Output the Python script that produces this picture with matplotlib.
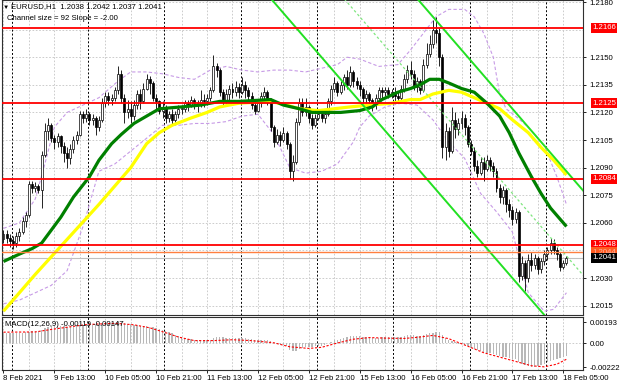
import numpy as np
import matplotlib
matplotlib.use("Agg")
import matplotlib.pyplot as plt
from matplotlib import transforms

plt.rcParams['font.family'] = ['Liberation Sans', 'DejaVu Sans']
FS = 5.6

# ---- hourly EURUSD candles (8 Feb 21:00 .. 18 Feb 06:00) ----
first_open = 1.2051
closes = [
    1.2054, 1.2052, 1.2050, 1.2049, 1.2053, 1.2055, 1.2061, 1.2064, 1.2081, 1.2079,
    1.2080, 1.2078, 1.2097, 1.2110, 1.2113, 1.2106, 1.2104, 1.2107, 1.2102, 1.2098,
    1.2095, 1.2100, 1.2105, 1.2108, 1.2119, 1.2117, 1.2119, 1.2116, 1.2117, 1.2112,
    1.2116, 1.2125, 1.2129, 1.2127, 1.2128, 1.2132, 1.2141, 1.2128, 1.2120, 1.2122,
    1.2118, 1.2124, 1.2130, 1.2126, 1.2133, 1.2138, 1.2136, 1.2128, 1.2126, 1.2121,
    1.2123, 1.2117, 1.2119, 1.2116, 1.2119, 1.2122, 1.2122, 1.2125, 1.2124, 1.2127,
    1.2125, 1.2124, 1.2127, 1.2126, 1.2128, 1.2132, 1.2145, 1.2143, 1.2131, 1.2126,
    1.2130, 1.2133, 1.2131, 1.2134, 1.2131, 1.2135, 1.2132, 1.2129, 1.2124, 1.2121,
    1.2125, 1.2129, 1.2131, 1.2126, 1.2112, 1.2104, 1.2108, 1.2105, 1.2109, 1.2103,
    1.2088, 1.2093, 1.2115, 1.2125, 1.2120, 1.2123, 1.2117, 1.2113, 1.2117, 1.2119,
    1.2117, 1.2119, 1.2126, 1.2133, 1.2136, 1.2131, 1.2135, 1.2139, 1.2135, 1.2142,
    1.2137, 1.2135, 1.2133, 1.2128, 1.2130, 1.2127, 1.2124, 1.2128, 1.2132, 1.2131,
    1.2132, 1.2130, 1.2131, 1.2129, 1.2128, 1.2133, 1.2138, 1.2143, 1.2141, 1.2134,
    1.2137, 1.2132, 1.2146, 1.2152, 1.2157, 1.2165, 1.2163, 1.2150, 1.2101, 1.2110,
    1.2099, 1.2116, 1.2111, 1.2114, 1.2117, 1.2112, 1.2103, 1.2099, 1.2091, 1.2087,
    1.2093, 1.2089, 1.2094, 1.2091, 1.2088, 1.2079, 1.2074, 1.2078, 1.2070, 1.2067,
    1.2062, 1.2066, 1.2031, 1.2038, 1.2030, 1.2040, 1.2037, 1.2041, 1.2035, 1.2039,
    1.2043, 1.2045, 1.2049, 1.2045, 1.2043, 1.2036, 1.2038, 1.2041,
]
highs = [
    1.2056, 1.2056, 1.2054, 1.2053, 1.2055, 1.2057, 1.2063, 1.2066, 1.2083, 1.2083,
    1.2082, 1.2081, 1.2099, 1.2114, 1.2117, 1.2114, 1.2108, 1.2109, 1.2108, 1.2104,
    1.2101, 1.2103, 1.2107, 1.2110, 1.2121, 1.2121, 1.2122, 1.2120, 1.2119, 1.2118,
    1.2118, 1.2128, 1.2131, 1.2131, 1.2130, 1.2134, 1.2145, 1.2143, 1.2130, 1.2127,
    1.2126, 1.2127, 1.2132, 1.2133, 1.2136, 1.2141, 1.2140, 1.2137, 1.2130, 1.2127,
    1.2126, 1.2124, 1.2121, 1.2122, 1.2121, 1.2124, 1.2124, 1.2127, 1.2127, 1.2129,
    1.2128, 1.2127, 1.2132, 1.2130, 1.2130, 1.2134, 1.2151, 1.2147, 1.2144, 1.2133,
    1.2133, 1.2135, 1.2136, 1.2137, 1.2136, 1.2139, 1.2137, 1.2134, 1.2131, 1.2126,
    1.2127, 1.2131, 1.2134, 1.2132, 1.2128, 1.2113, 1.2111, 1.2110, 1.2112, 1.2110,
    1.2104, 1.2097, 1.2117, 1.2128, 1.2128, 1.2128, 1.2124, 1.2119, 1.2119, 1.2121,
    1.2121, 1.2122, 1.2128, 1.2135, 1.2139, 1.2137, 1.2137, 1.2141, 1.2143, 1.2145,
    1.2143, 1.2139, 1.2137, 1.2134, 1.2132, 1.2131, 1.2128, 1.2130, 1.2134, 1.2134,
    1.2134, 1.2134, 1.2133, 1.2134, 1.2131, 1.2135, 1.2141, 1.2146, 1.2148, 1.2143,
    1.2139, 1.2138, 1.2149, 1.2158, 1.2162, 1.2170, 1.2172, 1.2166, 1.2152, 1.2114,
    1.2112, 1.2123, 1.2120, 1.2117, 1.2121, 1.2119, 1.2113, 1.2105, 1.2101, 1.2094,
    1.2096, 1.2096, 1.2097, 1.2096, 1.2093, 1.2090, 1.2081, 1.2080, 1.2079, 1.2073,
    1.2069, 1.2068, 1.2067, 1.2042, 1.2040, 1.2043, 1.2044, 1.2043, 1.2042, 1.2041,
    1.2045, 1.2047, 1.2052, 1.2051, 1.2047, 1.2044, 1.2040, 1.2042,
]
lows = [
    1.2049, 1.2049, 1.2047, 1.2046, 1.2047, 1.2050, 1.2054, 1.2058, 1.2063, 1.2076,
    1.2077, 1.2076, 1.2068, 1.2096, 1.2105, 1.2104, 1.2100, 1.2101, 1.2098, 1.2093,
    1.2090, 1.2092, 1.2098, 1.2103, 1.2107, 1.2114, 1.2115, 1.2113, 1.2113, 1.2108,
    1.2110, 1.2115, 1.2123, 1.2124, 1.2124, 1.2126, 1.2130, 1.2125, 1.2114, 1.2117,
    1.2114, 1.2116, 1.2122, 1.2122, 1.2125, 1.2132, 1.2130, 1.2126, 1.2122, 1.2119,
    1.2117, 1.2114, 1.2115, 1.2113, 1.2115, 1.2117, 1.2119, 1.2120, 1.2121, 1.2123,
    1.2122, 1.2120, 1.2123, 1.2123, 1.2124, 1.2126, 1.2131, 1.2139, 1.2129, 1.2124,
    1.2125, 1.2127, 1.2128, 1.2129, 1.2128, 1.2130, 1.2128, 1.2126, 1.2122, 1.2119,
    1.2120, 1.2123, 1.2127, 1.2124, 1.2110, 1.2101, 1.2103, 1.2102, 1.2104, 1.2100,
    1.2084, 1.2083, 1.2092, 1.2113, 1.2118, 1.2118, 1.2114, 1.2111, 1.2112, 1.2116,
    1.2115, 1.2114, 1.2118, 1.2124, 1.2131, 1.2129, 1.2130, 1.2132, 1.2133, 1.2134,
    1.2134, 1.2133, 1.2129, 1.2125, 1.2125, 1.2122, 1.2121, 1.2122, 1.2127, 1.2128,
    1.2129, 1.2128, 1.2128, 1.2126, 1.2125, 1.2127, 1.2131, 1.2136, 1.2138, 1.2132,
    1.2131, 1.2130, 1.2131, 1.2144, 1.2150, 1.2155, 1.2158, 1.2145, 1.2095, 1.2094,
    1.2096, 1.2098, 1.2106, 1.2108, 1.2111, 1.2108, 1.2101, 1.2097, 1.2088, 1.2085,
    1.2086, 1.2083, 1.2088, 1.2088, 1.2085, 1.2077, 1.2071, 1.2070, 1.2066, 1.2063,
    1.2059, 1.2060, 1.2028, 1.2029, 1.2023, 1.2028, 1.2034, 1.2035, 1.2032, 1.2033,
    1.2037, 1.2040, 1.2043, 1.2043, 1.2040, 1.2034, 1.2035, 1.2037,
]

# MACD(12,26,9) main histogram, in 1e-5
macd_main = [
    95, 95, 94, 92, 92, 93, 95, 98, 105, 110,
    113, 114, 122, 135, 148, 155, 158, 160, 158, 154,
    150, 150, 152, 154, 160, 163, 166, 167, 168, 166,
    167, 172, 177, 180, 182, 185, 193, 190, 183, 178,
    172, 168, 166, 160, 158, 156, 152, 145, 137, 128,
    120, 110, 100, 88, 78, 68, 58, 48, 40, 34,
    28, 24, 24, 24, 26, 30, 45, 55, 56, 52,
    50, 48, 47, 47, 46, 46, 44, 40, 35, 30,
    28, 28, 30, 30, 18, 2, -8, -16, -20, -28,
    -60, -78, -70, -55, -45, -38, -35, -35, -32, -28,
    -25, -15, -2, 12, 25, 32, 40, 48, 55, 62,
    64, 63, 60, 55, 52, 46, 42, 45, 50, 52,
    55, 56, 55, 53, 52, 55, 62, 70, 74, 70,
    66, 64, 72, 80, 88, 96, 102, 98, 70, 48,
    30, 20, 5, -5, -12, -20, -32, -42, -55, -68,
    -75, -85, -90, -95, -100, -110, -120, -125, -130, -138,
    -145, -150, -175, -190, -205, -212, -222, -220, -212, -200,
    -190, -178, -165, -155, -147, -138, -128, -119,
]
signal_bars = [0, 10, 15, 26, 35, 41, 46, 51, 55, 60, 66, 72, 78, 85, 90, 96, 100,
               105, 110, 115, 120, 126, 130, 135, 140, 146, 151, 156, 161, 166,
               170, 174, 177]
signal_vals = [100, 102, 125, 170, 182, 168, 140, 95, 55, 22, 22, 30, 22, 2, -35, -50,
               -40, 0, 35, 50, 45, 42, 52, 70, 40, -30, -90, -130, -170, -210,
               -220, -195, -150]

# moving averages (bar index, price)
green_bars = [0, 5, 9, 12, 15, 18, 22, 27, 30, 34, 37, 41, 45, 49, 56, 62, 68, 74,
              84, 88, 93, 97, 102, 106, 112, 116, 119, 124, 128, 131, 134, 137,
              140, 144, 148, 152, 156, 159, 162, 166, 169, 172, 175, 177]
green_vals = [1.2039, 1.2043, 1.2046, 1.2049, 1.2056, 1.2063, 1.2074, 1.2085, 1.2094,
              1.2103, 1.2108, 1.2114, 1.2118, 1.2122, 1.2123, 1.2124, 1.2126, 1.2126,
              1.2127, 1.2124, 1.2122, 1.2120, 1.2120, 1.2120, 1.2121, 1.2123, 1.2127,
              1.2131, 1.2133, 1.2135, 1.2138, 1.2138, 1.2136, 1.2133, 1.2131, 1.2125,
              1.2118, 1.2109, 1.2098, 1.2085, 1.2076, 1.2068, 1.2062, 1.2058]
yellow_bars = [0, 10, 20, 30, 40, 45, 49, 53, 59, 64, 68, 74, 84, 89, 93, 99, 104,
               109, 115, 122, 128, 131, 135, 140, 144, 148, 152, 156, 160, 165,
               169, 173, 177]
yellow_vals = [1.2012, 1.2032, 1.2051, 1.2070, 1.2090, 1.2103, 1.2109, 1.2113, 1.2117,
               1.2120, 1.2123, 1.2125, 1.2126, 1.2124, 1.2122, 1.2121, 1.2122, 1.2123,
               1.2124, 1.2125, 1.2127, 1.2127, 1.2130, 1.2132, 1.2131, 1.2128, 1.2125,
               1.2122, 1.2116, 1.2109, 1.2101, 1.2094, 1.2086]

# bollinger bands (bar index, price)
bb_up_bars = [0, 5, 10, 13, 16, 20, 25, 30, 36, 40, 45, 50, 55, 60, 65, 70, 75, 80,
              85, 90, 95, 100, 105, 108, 112, 118, 124, 128, 132, 136, 140, 145,
              148, 151, 154, 156, 158, 161, 165, 170, 174, 177]
bb_up_vals = [1.2057, 1.2060, 1.2073, 1.2092, 1.2112, 1.2120, 1.2124, 1.2128, 1.2137,
              1.2142, 1.2142, 1.2141, 1.2139, 1.2138, 1.2143, 1.2145, 1.2143, 1.2142,
              1.2143, 1.2143, 1.2142, 1.2144, 1.2146, 1.2150, 1.2149, 1.2145, 1.2146,
              1.2154, 1.2163, 1.2172, 1.2176, 1.2176, 1.2172, 1.2163, 1.2150, 1.2130,
              1.2122, 1.2118, 1.2112, 1.2102, 1.2085, 1.2070]
bb_lo_bars = [0, 5, 10, 15, 20, 25, 30, 35, 40, 45, 50, 55, 60, 65, 70, 75, 80, 85,
              90, 95, 100, 105, 110, 112, 115, 120, 125, 130, 135, 140, 145, 150,
              155, 160, 165, 170, 173, 177]
bb_lo_vals = [1.2016, 1.2018, 1.2022, 1.2026, 1.2034, 1.2058, 1.2088, 1.2092, 1.2099,
              1.2106, 1.2113, 1.2113, 1.2114, 1.2114, 1.2115, 1.2118, 1.2119, 1.2108,
              1.2090, 1.2087, 1.2088, 1.2092, 1.2104, 1.2112, 1.2118, 1.2123, 1.2125,
              1.2124, 1.2116, 1.2104, 1.2095, 1.2076, 1.2066, 1.2055, 1.2022, 1.2012,
              1.2013, 1.2022]

# levels and channel
red_levels = [1.2166, 1.2125, 1.2084, 1.2048]
orange_level = 1.2044
bid_level = 1.2041
channel_size = 0.0092
channel_slope = -0.0002      # per bar
channel_anchor = (164, 1.2022)

price_ticks = [1.2015, 1.2030, 1.2060, 1.2075, 1.2090, 1.2105, 1.2120, 1.2135, 1.2150, 1.2180]
grid_levels = np.arange(1.2015, 1.21801, 0.0015)
time_labels = ["8 Feb 2021", "9 Feb 13:00", "10 Feb 05:00", "10 Feb 21:00",
               "11 Feb 13:00", "12 Feb 05:00", "12 Feb 21:00", "15 Feb 13:00",
               "16 Feb 05:00", "16 Feb 21:00", "17 Feb 13:00", "18 Feb 05:00"]
day_starts = [3, 27, 51, 75, 99, 123, 147, 171]

assert len(closes) == len(highs) == len(lows) == len(macd_main)

# ---- figure ----
W, H = 620, 388
fig = plt.figure(figsize=(W / 100, H / 100), dpi=100)
fig.patch.set_facecolor('white')
ax = fig.add_axes([2 / W, 1 - 315 / H, 581 / W, 315 / H])
axm = fig.add_axes([2 / W, 1 - 370 / H, 581 / W, 53 / H])

n = len(closes)
x = np.arange(n)
c = np.array(closes)
o = np.r_[first_open, c[:-1]]
hi = np.maximum(np.array(highs), np.maximum(o, c))
lo = np.minimum(np.array(lows), np.minimum(o, c))

xlim = (-0.47, 182.2)
ytop = 1.21811
ax.set_xlim(*xlim)
ax.set_ylim(ytop - 315 / 18400, ytop)

grid_kw = dict(color='#c4c4c4', lw=0.6, ls=(0, (2, 2)), zorder=0)
for g in grid_levels:
    ax.axhline(g, **grid_kw)
for b in range(0, n + 5, 8):
    ax.axvline(b, **grid_kw)
    axm.axvline(b, **grid_kw)
for d in day_starts:
    ax.axvline(d - 0.4, color='black', lw=0.7, ls=(0, (2, 2)), zorder=1)
    axm.axvline(d - 0.4, color='black', lw=0.7, ls=(0, (2, 2)), zorder=1)

# bollinger bands
ax.plot(bb_up_bars, bb_up_vals, color='#c79be6', lw=0.8, ls=(0, (3, 2)), zorder=2)
ax.plot(bb_lo_bars, bb_lo_vals, color='#c79be6', lw=0.8, ls=(0, (3, 2)), zorder=2)

# candles
bull = c >= o
ax.vlines(x, lo, hi, color='black', lw=0.6, zorder=3)
body = np.maximum(np.abs(c - o), 0.00002)
ax.bar(x, body, bottom=np.minimum(o, c), width=0.62,
       color=np.where(bull, 'white', 'black'), edgecolor='black', lw=0.5, zorder=4)

# moving averages
ax.plot(yellow_bars, yellow_vals, color='#ffff00', lw=2.3, zorder=5, solid_capstyle='butt')
ax.plot(green_bars, green_vals, color='#008000', lw=2.3, zorder=6, solid_capstyle='butt')

# regression channel
xs = np.array([xlim[0] - 5, xlim[1] + 5])
lower = channel_anchor[1] + channel_slope * (xs - channel_anchor[0])
ax.plot(xs, lower, color='#22e022', lw=1.4, zorder=7)
ax.plot(xs, lower + channel_size, color='#22e022', lw=1.4, zorder=7)
ax.plot(xs, lower + channel_size / 2, color='#7ee67e', lw=0.9, ls=(0, (2, 2)), zorder=7)

# horizontal levels
for lv in red_levels:
    ax.axhline(lv, color='#ff0000', lw=1.3, zorder=8)
ax.axhline(orange_level, color='#ff7f3f', lw=1.0, zorder=8)
ax.axhline(bid_level, color='#c0c0c0', lw=0.8, zorder=2)

# right price axis
ax.yaxis.tick_right()
ax.set_yticks(price_ticks)
ax.set_yticklabels([f"{p:.4f}" for p in price_ticks])
ax.tick_params(axis='y', labelsize=FS, length=2.5, width=0.6, pad=2, colors='black')
ax.set_xticks([])

trans = transforms.blended_transform_factory(ax.transAxes, ax.transData)
def level_label(price, fc, tc):
    ax.annotate(f"{price:.4f}", xy=(1.0, price), xycoords=trans,
                xytext=(6.5, 0), textcoords='offset points', ha='left', va='center',
                fontsize=FS, color=tc, annotation_clip=False, zorder=20,
                bbox=dict(boxstyle='square,pad=0.18', fc=fc, ec='none'))
for lv in red_levels:
    level_label(lv, '#ff0000', 'white')
level_label(orange_level, '#ff5a1f', '#ffb3a0')
level_label(bid_level, 'black', 'white')

for sp in ax.spines.values():
    sp.set_color('#303030')
    sp.set_linewidth(0.8)

# ---- MACD panel ----
axm.set_xlim(*xlim)
axm.set_ylim(-0.002491, 0.002399)
axm.axhline(0, color='#c4c4c4', lw=0.6, ls=(0, (2, 2)), zorder=0)
axm.bar(x, np.array(macd_main) * 1e-5, width=0.42, color='#b8b8b8', zorder=2)
axm.plot(signal_bars, np.array(signal_vals) * 1e-5, color='#ff0000', lw=0.8,
         ls=(0, (2, 1.5)), zorder=3)
axm.yaxis.tick_right()
axm.set_yticks([0.00193, 0.0, -0.00222])
axm.set_yticklabels(["0.00193", "0.00", "-0.00222"])
axm.tick_params(axis='y', labelsize=FS, length=2.5, width=0.6, pad=2)
axm.set_xticks(np.arange(0, 16 * len(time_labels), 16))
axm.set_xticklabels(time_labels)
axm.tick_params(axis='x', labelsize=FS, length=2, width=0.6, pad=1.5)
for lab in axm.get_xticklabels():
    lab.set_ha('left')
for sp in axm.spines.values():
    sp.set_color('#303030')
    sp.set_linewidth(0.8)

# header texts
fig.text(3 / W, 1 - 7 / H, "▼", fontsize=4.5, va='center', ha='left')
fig.text(11 / W, 1 - 7 / H, "EURUSD,H1  1.2038 1.2042 1.2037 1.2041",
         fontsize=FS, va='center', ha='left')
fig.text(7 / W, 1 - 18 / H, "Channel size = 92 Slope = -2.00",
         fontsize=FS, va='center', ha='left')
fig.text(5 / W, 1 - 325 / H, "MACD(12,26,9) -0.00119 -0.00147",
         fontsize=FS, va='center', ha='left', zorder=10)

fig.savefig("out.png", dpi=100, facecolor='white')
